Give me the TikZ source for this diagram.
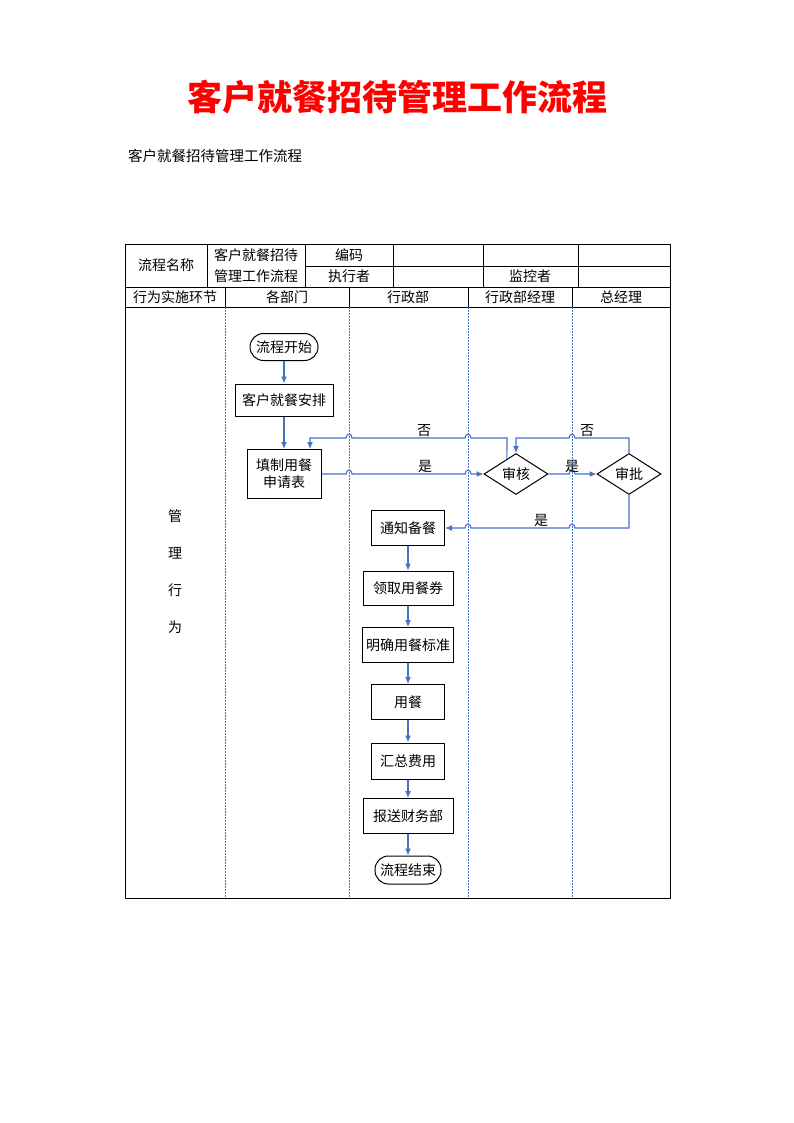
\documentclass[tikz,border=0pt]{standalone}
\usepackage{fontspec}
\setmainfont{Noto Sans CJK SC}
\usetikzlibrary{shapes.geometric,arrows.meta,calc}
\definecolor{flowblue}{RGB}{68,114,196}
\definecolor{dotblue}{RGB}{70,115,205}
\begin{document}
\begin{tikzpicture}[x=1pt,y=-1pt,
  txt/.style={inner sep=0pt,font=\fontsize{14}{17}\selectfont},
  tbl/.style={draw=black,line width=0.8pt},
  lane/.style={draw=dotblue,line width=1pt,dash pattern=on 1.5pt off 1.5pt},
  box/.style={draw=black,line width=1pt,rectangle,inner sep=0pt,font=\fontsize{14}{17}\selectfont,align=center},
  term/.style={box,rounded corners=13.5pt,minimum height=27pt},
  dia/.style={draw=black,line width=1pt,diamond,inner sep=0pt,minimum width=64pt,minimum height=37pt,font=\fontsize{14}{17}\selectfont},
  flow/.style={draw=flowblue,line width=1.1pt,-{Latex[length=7pt,width=6pt]}},
  hopr/.style 2 args={insert path={-- ({#1-3},#2) .. controls ({#1-3},{#2-5}) and ({#1+3},{#2-5}) .. ({#1+3},#2)}},
  hopl/.style 2 args={insert path={-- ({#1+3},#2) .. controls ({#1+3},{#2-5}) and ({#1-3},{#2-5}) .. ({#1-3},#2)}}
]
\useasboundingbox (0,0) rectangle (794,1123);

% titles
\node[inner sep=0pt,text=red,font=\fontsize{35}{40}\selectfont\bfseries] (title) at (397,97) {客户就餐招待管理工作流程};
\node[inner sep=0pt,anchor=west,font=\fontsize{14.5}{17}\selectfont] (subtitle) at (128,156) {客户就餐招待管理工作流程};

% table frame
\draw[tbl] (125,244) rectangle (670,898);
\draw[tbl] (305,266) -- (670,266);
\draw[tbl] (125,287) -- (670,287);
\draw[tbl] (125,307) -- (670,307);
\foreach \x in {207,305,393,483,578} \draw[tbl] (\x,244) -- (\x,287);
\foreach \x in {225,349,468,572} \draw[tbl] (\x,287) -- (\x,307);
\foreach \x in {225,349,468,572} \draw[lane] (\x,307) -- (\x,898);

% table texts
\node[txt] (h1) at (166,265) {流程名称};
\node[txt] (h2) at (256,255) {客户就餐招待};
\node[txt] (h3) at (256,276) {管理工作流程};
\node[txt] (h4) at (349,255) {编码};
\node[txt] (h5) at (349,276) {执行者};
\node[txt] (h6) at (530,276) {监控者};
\node[txt] (r1) at (175,297) {行为实施环节};
\node[txt] (r2) at (287,297) {各部门};
\node[txt] (r3) at (408,297) {行政部};
\node[txt] (r4) at (520,297) {行政部经理};
\node[txt] (r5) at (621,297) {总经理};

\node[txt] (g1) at (175,516) {管};
\node[txt] (g2) at (175,553) {理};
\node[txt] (g3) at (175,590) {行};
\node[txt] (g4) at (175,627) {为};

% nodes
\node[term,minimum width=68pt] (start) at (284,347) {流程开始};
\node[box,minimum width=98pt,minimum height=32pt] (arr) at (284,400) {客户就餐安排};
\node[box,minimum width=74pt,minimum height=49pt] (fill) at (284,474) {填制用餐\\申请表};
\node[dia] (shen) at (516,474) {审核};
\node[dia] (pi) at (629,474) {审批};
\node[box,minimum width=73pt,minimum height=35pt] (n1) at (408,528) {通知备餐};
\node[box,minimum width=90pt,minimum height=34pt] (n2) at (408,588) {领取用餐券};
\node[box,minimum width=91pt,minimum height=35pt] (n3) at (408,645) {明确用餐标准};
\node[box,minimum width=73pt,minimum height=35pt] (n4) at (408,702) {用餐};
\node[box,minimum width=73pt,minimum height=36pt] (n5) at (408,761) {汇总费用};
\node[box,minimum width=90pt,minimum height=35pt] (n6) at (408,816) {报送财务部};
\node[term,minimum width=66pt,minimum height=28pt] (end) at (408,870) {流程结束};

% connectors
\draw[flow] (start) -- (arr);
\draw[flow] (arr) -- (fill);
\draw[flow] (fill.east) [hopr={349}{474}] [hopr={468}{474}] -- (shen.west);
\draw[flow] (shen.east) [hopr={572}{474}] -- (pi.west);
\coordinate (c1) at (310,438);
\draw[flow] ($(shen.north)!0.28!(shen.west)$) -- (507,438) [hopl={468}{438}] [hopl={349}{438}] -- (c1) -- (c1 |- fill.north);
\draw[flow] (pi.north) -- (629,438) [hopl={572}{438}] -- (516,438) -- (shen.north);
\draw[flow] (pi.south) -- (629,528) [hopl={572}{528}] [hopl={468}{528}] -- (n1.east);
\draw[flow] (n1) -- (n2);
\draw[flow] (n2) -- (n3);
\draw[flow] (n3) -- (n4);
\draw[flow] (n4) -- (n5);
\draw[flow] (n5) -- (n6);
\draw[flow] (n6) -- (end);

% labels
\node[txt] (l1) at (425,466) {是};
\node[txt] (l2) at (424,431) {否};
\node[txt] (l3) at (572,466) {是};
\node[txt] (l4) at (587,431) {否};
\node[txt] (l5) at (541,520) {是};
\end{tikzpicture}
\end{document}
